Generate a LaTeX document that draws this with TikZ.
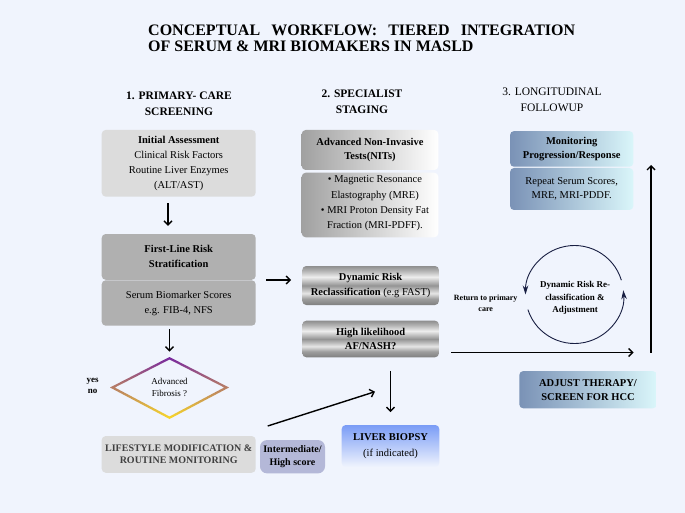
\documentclass[tikz,border=0pt]{standalone}
\usepackage{fontspec}
\setmainfont{Liberation Serif}
\usetikzlibrary{shapes.geometric, arrows.meta, positioning}

\definecolor{bgcol}{RGB}{240,244,253}
\definecolor{lightbox}{RGB}{220,220,220}
\definecolor{darkbox}{RGB}{176,176,176}
\definecolor{lavbox}{RGB}{180,184,216}
\definecolor{steel}{RGB}{122,146,182}
\definecolor{icecyan}{RGB}{218,246,250}
\definecolor{biopsyblue}{RGB}{122,156,246}
\definecolor{navy}{RGB}{24,30,66}
\definecolor{fibpurple}{RGB}{120,40,160}
\definecolor{fibyellow}{RGB}{250,218,40}

\pgfdeclareverticalshading{metal}{100bp}{%
	rgb(0bp)=(0.50,0.50,0.50);
	rgb(25bp)=(0.50,0.50,0.50);
	rgb(33bp)=(0.62,0.62,0.62);
	rgb(40bp)=(0.90,0.90,0.90);
	rgb(50bp)=(0.58,0.58,0.58);
	rgb(61bp)=(0.93,0.93,0.93);
	rgb(69bp)=(0.70,0.70,0.70);
	rgb(75bp)=(0.56,0.56,0.56);
	rgb(100bp)=(0.56,0.56,0.56)}

\begin{document}
\begin{tikzpicture}[x=1pt, y=-1pt,
		box/.style={rounded corners=4pt, inner sep=0pt, align=center, font=\fontsize{10.5}{15}\selectfont},
		head/.style={align=center, font=\fontsize{11.5}{16}\selectfont\bfseries},
		arr/.style={-{Straight Barb[length=4pt,width=8pt]}, line width=1.4pt},
		cycarr/.style={draw=navy, line width=0.9pt, -{Stealth[length=9pt,width=5.5pt]}}]
	% Hintergrund
	\fill[bgcol] (0,0) rectangle (685,513);
	
	% Titel
	\node[anchor=west, align=left, inner sep=0pt, font=\fontsize{16}{15.5}\selectfont\bfseries] (title) at (148,38.5)
		{\makebox[427pt][s]{CONCEPTUAL WORKFLOW: TIERED INTEGRATION}\\OF SERUM \& MRI BIOMAKERS IN MASLD};
	
	% Spaltenkoepfe
	\node[head] (h1) at (179,104) {1. PRIMARY- CARE\\SCREENING};
	\node[head] (h2) at (362,101.5) {2. SPECIALIST\\STAGING};
	\node[head, font=\fontsize{11.5}{16}\selectfont] (h3) at (552,100) {3. LONGITUDINAL\\FOLLOWUP};
	
	% Spalte 1
	\node[box, fill=lightbox, minimum width=154, minimum height=66.7] (init) at (178.7,163.3)
		{\textbf{Initial Assessment}\\Clinical Risk Factors\\Routine Liver Enzymes\\(ALT/AST)};
	\node[box, fill=darkbox, minimum width=154, minimum height=45.8] (risk) at (178.7,256.9)
		{\textbf{First-Line Risk}\\\textbf{Stratification}};
	\node[box, fill=darkbox, minimum width=154, minimum height=45.4] (riskb) at (178.7,303)
		{Serum Biomarker Scores\\e.g. FIB-4, NFS};
	\node[align=center, inner sep=0pt, font=\fontsize{9}{12.7}\selectfont] (fib) at (169.5,387.5) {Advanced\\Fibrosis ?};
	\shade[top color=fibpurple, bottom color=fibyellow, even odd rule]
		([yshift=30.5pt]fib.center) -- ([xshift=-59.5pt]fib.center) -- ([yshift=-31.5pt]fib.center) -- ([xshift=59.5pt]fib.center) -- cycle
		([yshift=28pt]fib.center) -- ([xshift=-54.7pt]fib.center) -- ([yshift=-29pt]fib.center) -- ([xshift=54.7pt]fib.center) -- cycle;
	\node[align=center, inner sep=0pt, font=\fontsize{9}{11.7}\selectfont\bfseries] (yesno) at (92.7,386) {yes\\no};
	\node[box, fill=lightbox, text=black!75, minimum width=154, minimum height=36.7, font=\fontsize{10}{12}\selectfont\bfseries] (life) at (178.7,454.4)
		{LIFESTYLE MODIFICATION \&\\ROUTINE MONITORING};
	\node[box, fill=lavbox, rounded corners=7pt, minimum width=65, minimum height=33.3, font=\fontsize{10}{12.3}\selectfont\bfseries] (inter) at (292.5,456.7)
		{Intermediate/\\High score};
	
	% Spalte 2
	\node[box, left color=black!37, right color=white, minimum width=136.6, minimum height=40, font=\fontsize{10.5}{14}\selectfont\bfseries] (nit) at (370,150)
		{Advanced Non-Invasive\\Tests(NITs)};
	\node[box, left color=black!37, right color=white, minimum width=136.6, minimum height=64.6] (nitb) at (370,205) {};
	\node[align=center, inner sep=0pt, font=\fontsize{10.5}{15.3}\selectfont] (nitt) at (375,203.5)
		{\textbullet\ Magnetic Resonance\\Elastography (MRE)\\\textbullet\ MRI Proton Density Fat\\Fraction (MRI-PDFF).};
	\node[box, shade, shading=metal, minimum width=136.7, minimum height=39] (dyn) at (370.6,285.5)
		{\textbf{Dynamic Risk}\\\textbf{Reclassification} (e.g FAST)};
	\node[box, shade, shading=metal, minimum width=136.7, minimum height=36.6, font=\fontsize{10.5}{14.6}\selectfont\bfseries] (hl) at (370.6,339)
		{High likelihood\\AF/NASH?};
	\node[box, top color=biopsyblue, bottom color=bgcol, minimum width=97.6, minimum height=42, font=\fontsize{10.5}{16}\selectfont] (bx) at (390.5,446)
		{\textbf{LIVER BIOPSY}\\(if indicated)};
	
	% Spalte 3
	\node[box, left color=steel, right color=icecyan, minimum width=123.3, minimum height=35.7, font=\fontsize{10.5}{14.3}\selectfont\bfseries] (mon) at (571.7,148.9)
		{Monitoring\\Progression/Response};
	\node[box, left color=steel, right color=icecyan, minimum width=123.3, minimum height=42, font=\fontsize{10.5}{14.3}\selectfont] (monb) at (571.7,189)
		{Repeat Serum Scores,\\MRE, MRI-PDDF.};
	\node[align=center, inner sep=0pt, font=\fontsize{8}{10.6}\selectfont\bfseries] (rtn) at (485.7,303) {Return to primary\\care};
	\node[align=center, inner sep=0pt, font=\fontsize{9}{12.2}\selectfont\bfseries] (cyc) at (575,298) {Dynamic Risk Re-\\classification \&\\Adjustment};
	\node[box, left color=steel, right color=icecyan, minimum width=137.4, minimum height=37.3, font=\fontsize{10.5}{14}\selectfont\bfseries] (adj) at (588,389.7)
		{ADJUST THERAPY/\\SCREEN FOR HCC};
	
	% Kreislauf
	\draw[cycarr] ([shift={(-17:49)}]574.5,294.5) arc[start angle=-17, end angle=-180, radius=49];
	\draw[cycarr] ([shift={(-198:49)}]574.5,294.5) arc[start angle=-198, end angle=-365, radius=49];
	
	% Pfeile
	\coordinate (dgA) at (267.7,426);
	\coordinate (dgB) at (375,391.7);
	\coordinate (hA) at (451,352.5);
	\coordinate (vA) at (651,352.7);
	\coordinate (vB) at (651,165);
	\draw[arr, shorten <=6.3pt, shorten >=8pt] ([xshift=-10.7pt]init.south) -- ([xshift=-10.7pt]risk.north);
	\draw[arr, shorten <=10.3pt, shorten >=11pt] (risk.south east) -- (risk.south east -| dyn.west);
	\draw[arr, shorten <=3.3pt, shorten >=5.3pt] (fib.center |- riskb.south) -- ([yshift=30.5pt]fib.center);
	\draw[arr] (dgA) -- (dgB);
	\draw[arr, shorten <=13.4pt, shorten >=12.7pt] (bx.north |- hl.south) -- (bx.north);
	\draw[arr] (hA) -- (hA -| mon.east);
	\draw[arr] (vA) -- (vB);
\end{tikzpicture}
\end{document}
